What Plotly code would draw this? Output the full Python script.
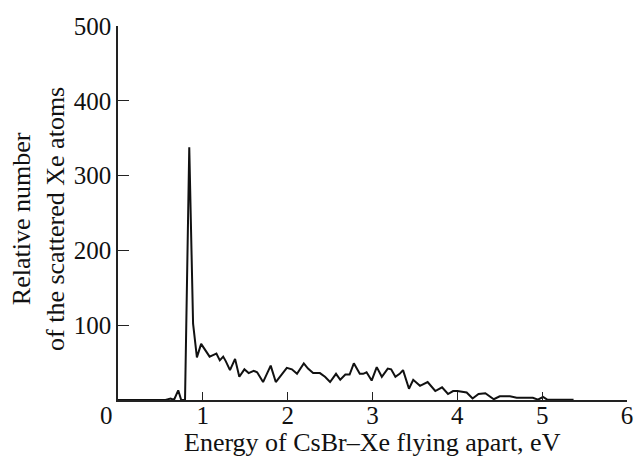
import plotly.graph_objects as go

energy = [0.0, 0.30, 0.56, 0.62, 0.66, 0.71, 0.745, 0.79, 0.84, 0.885, 0.93, 0.98,
          1.03, 1.08, 1.12, 1.16, 1.20, 1.24, 1.27, 1.32, 1.38, 1.43, 1.49, 1.54,
          1.60, 1.64, 1.71, 1.75, 1.80, 1.86, 1.91, 1.99, 2.05, 2.11, 2.19, 2.24,
          2.30, 2.38, 2.44, 2.50, 2.57, 2.62, 2.68, 2.73, 2.78, 2.85, 2.89, 2.93,
          2.99, 3.05, 3.11, 3.18, 3.22, 3.27, 3.32, 3.36, 3.43, 3.48, 3.56, 3.65,
          3.74, 3.82, 3.89, 3.95, 4.00, 4.11, 4.18, 4.25, 4.33, 4.43, 4.50, 4.62,
          4.70, 4.77, 4.85, 4.89, 4.95, 5.01, 5.06, 5.17, 5.37]
counts = [0, 0, 0, 2, 0, 13, 0, 0, 338, 102, 57, 75,
          66, 58, 60, 62, 53, 58, 52, 40, 55, 31, 41, 36,
          39, 37, 24, 34, 46, 24, 31, 43, 41, 35, 49, 42,
          36, 36, 31, 24, 35, 27, 34, 34, 49, 35, 35, 37,
          26, 44, 31, 42, 41, 31, 35, 40, 15, 27, 19, 24,
          12, 17, 8, 12, 12, 10, 2, 8, 9, 1, 5, 5,
          3, 3, 2, 3, 0.5, 4, 0.5, 0.5, 0.5]

x_ticks = [1, 2, 3, 4, 5, 6]
y_ticks = [100, 200, 300, 400, 500]
x_title = "Energy of CsBr\u2013Xe flying apart, eV"
y_title = "Relative number<br>of the scattered Xe atoms"

font = "Liberation Serif"
ink = "#111111"
fs = 25
ts = 26

fig = go.Figure()
fig.add_trace(go.Scatter(x=energy, y=counts, mode="lines",
                         line=dict(color=ink, width=2),
                         showlegend=False, cliponaxis=False))

fig.update_layout(
    width=634, height=460,
    margin=dict(l=118, r=7, t=26, b=60, autoexpand=False),
    paper_bgcolor="white", plot_bgcolor="white",
    font=dict(family=font, color=ink, size=fs),
    xaxis=dict(range=[0, 6], tickvals=x_ticks, ticks="inside", ticklen=8,
               tickcolor="#222222", tickwidth=1.3, automargin=False,
               ticklabelstandoff=-8,
               showline=True, linecolor="#222222", linewidth=1.5,
               showgrid=False, zeroline=False, tickfont=dict(size=fs)),
    yaxis=dict(range=[0, 500], tickvals=y_ticks, ticks="inside", ticklen=11,
               tickcolor="#222222", tickwidth=1.3, automargin=False,
               showline=True, linecolor="#222222", linewidth=1.5,
               showgrid=False, zeroline=False, tickfont=dict(size=fs)),
    annotations=[
        dict(text="0", xref="paper", yref="paper", x=0, y=0,
             xshift=-12, yshift=-15, xanchor="center", yanchor="middle",
             showarrow=False, font=dict(size=fs, family=font, color=ink)),
        dict(text=x_title, xref="paper", yref="paper", x=0.5, y=0,
             yshift=-42, xanchor="center", yanchor="middle",
             showarrow=False, font=dict(size=ts, family=font, color=ink)),
        dict(text=y_title, xref="paper", yref="paper", x=0, y=0.5,
             xshift=-80, yshift=-6, xanchor="center", yanchor="middle",
             textangle=-90,
             showarrow=False, font=dict(size=ts, family=font, color=ink)),
    ],
)

fig.write_html("out.html",
               config={"displayModeBar": False},
               post_script="document.body.style.margin='0';"
                           "document.body.style.overflow='hidden';")
